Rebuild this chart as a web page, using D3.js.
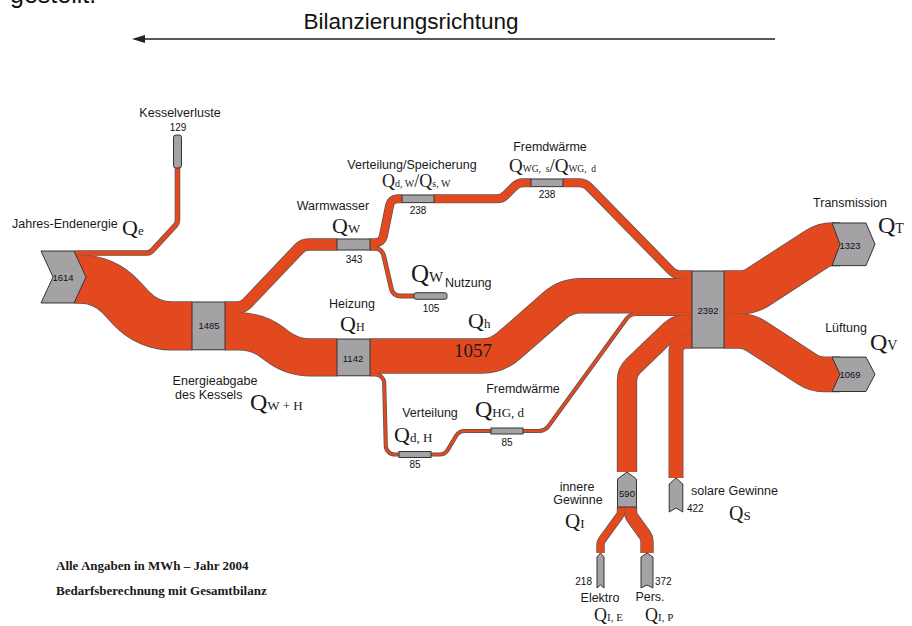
<!DOCTYPE html>
<html>
<head>
<meta charset="utf-8">
<script src="https://cdn.jsdelivr.net/npm/d3@7"></script>
<style>
body{margin:0;background:#fff;}
svg{display:block;}
</style>
</head>
<body>
<script>
// ---- data: energy balance in MWh, year 2004 ----
var nodeIds    = ["Qe","Kessel","Qwh","Qw","Qdw","Qwg","Qwn","Qhz","Qdh","Qhg","Qges","Qt","Qv","Qi","Qs","Qie","Qip"];
var nodeValues = [1614,129,1485,343,238,238,105,1142,85,85,2392,1323,1069,590,422,218,372];

var linkSource = ["Qe","Qe","Qwh","Qwh","Qw","Qw","Qdw","Qwg","Qhz","Qhz","Qdh","Qhg","Qi","Qs","Qges","Qges","Qie","Qip"];
var linkTarget = ["Kessel","Qwh","Qw","Qhz","Qdw","Qwn","Qwg","Qges","Qges","Qdh","Qhg","Qges","Qges","Qges","Qt","Qv","Qi","Qi"];
var linkValues = [129,1485,343,1142,238,105,238,238,1057,85,85,85,590,422,1323,1069,218,372];

var captionTexts = ["Kesselverluste","Jahres-Endenergie","Warmwasser","Verteilung/Speicherung","Fremdwärme","Nutzung","Heizung",
                    "Energieabgabe","des Kessels","Verteilung","Fremdwärme","Transmission","Lüftung","innere","Gewinne",
                    "solare Gewinne","Elektro","Pers."];
// symbol parts: big, sub, big, sub ...
var symbolTexts = [["Q","e"],["Q","W"],["Q","d, W","/Q","s, W"],["Q","WG,  s","/Q","WG,  d"],["Q","W"],["Q","H"],["Q","h"],
                   ["Q","W + H"],["Q","d, H"],["Q","HG, d"],["Q","T"],["Q","V"],["Q","I"],["Q","S"],["Q","I, E"],["Q","I, P"]];
var heatValueText = "1057";
var noteTexts = ["Alle Angaben in MWh – Jahr 2004","Bedarfsberechnung mit Gesamtbilanz"];
var titleText = "Bilanzierungsrichtung";
var pageText = "gestellt.";

// ---- layout ----
var ORANGE = "#e2491f", GREY = "#a4a2a5", EDGE = "#555";
var SANS = "'Liberation Sans', Arial, sans-serif", SERIF = "'Liberation Serif', 'Times New Roman', serif";

var w = d3.scaleLinear().domain([0, 2392]).range([0, 77]);

var nodeLayout = {
  Qe:    {kind:"chevR", x0:41,  x1:74,  yc:277,   tip:12, notch:12, lab:[63,281,"middle",9.5]},
  Kessel:{kind:"barV",  xc:177.5, y0:135, y1:168, thick:8, lab:[178,131,"middle",10]},
  Qwh:   {kind:"box",   x0:192, x1:225, yc:325.9, lab:[209,329,"middle",9.5]},
  Qw:    {kind:"box",   x0:337, x1:370, yc:244.5, lab:[354,263,"middle",10]},
  Qdw:   {kind:"box",   x0:402, x1:434, yc:198.8, lab:[418,214,"middle",10]},
  Qwg:   {kind:"box",   x0:531, x1:563, yc:182.8, lab:[547,198,"middle",10]},
  Qwn:   {kind:"box",   x0:414, x1:447, yc:296,   thick:6.5, rx:2, lab:[431,312,"middle",10]},
  Qhz:   {kind:"box",   x0:337, x1:370, yc:357.4, lab:[353,362,"middle",9.5]},
  Qdh:   {kind:"box",   x0:399, x1:431, yc:454.5, thick:6, lab:[415,468,"middle",10]},
  Qhg:   {kind:"box",   x0:491, x1:523, yc:431,   thick:6, lab:[507,446,"middle",10]},
  Qges:  {kind:"box",   x0:692, x1:724, yc:309.5, lab:[708,314,"middle",9.5]},
  Qt:    {kind:"chevR", x0:832, x1:866, yc:244.3, tip:9, notch:8, lab:[850,249,"middle",9.5]},
  Qv:    {kind:"chevR", x0:832, x1:866, yc:374.3, tip:9, notch:8, lab:[850,378,"middle",9.5]},
  Qi:    {kind:"chevU", xc:627, y0:479, y1:507, tip:7, notch:0, lab:[627,497,"middle",9.5]},
  Qs:    {kind:"chevU", xc:676, y0:484, y1:512, tip:6, notch:4, lab:[687,512,"start",10]},
  Qie:   {kind:"chevU", xc:600.5, y0:557, y1:588, tip:4, notch:3, lab:[592,585,"end",10]},
  Qip:   {kind:"chevU", xc:647, y0:557, y1:588, tip:4, notch:3, lab:[655,585,"start",10]}
};

// bend points of each link ('s' = start coordinate, 'e' = end coordinate)
var linkVia = [
  [[150,"s"],["e",223]],
  [[104,"s"],[148,"e"]],
  [[243,"s"],[303,"e"]],
  [[258,"s"],[292,"e"]],
  [[382,"s"],[391,"e"]],
  [[382,"s"],[393,"e"]],
  [[502,"s"],[518,"e"]],
  [[585,"s"],[675,"e"]],
  [[497,"s"],[566,"e"]],
  [[384,"s"],[386,"e"]],
  [[445,"s"],[459,"e"]],
  [[545,"s"],[630,"e"]],
  [["s",372],[676,"e"]],
  [["s","e"]],
  [[750,"s"],[824,"e"]],
  [[748,"s"],[815,"e"]],
  [["s",542],["e",514]],
  [["s",538],["e",515]]
];
var linkRadius = [8,55,14,55,8,9,12,15,40,9,10,12,20,10,30,30,8,10];

var captionPos = [[180,117,"middle"],[12,228,"start"],[333,210,"middle"],[412,169,"middle"],[550,151,"middle"],
                  [445,287,"start"],[352,308,"middle"],[215,385,"middle"],[175,399,"start"],[430,417,"middle"],
                  [523,393,"middle"],[850,207,"middle"],[846,332,"middle"],[577,491,"middle"],[578,504,"middle"],
                  [691,495,"start"],[600,602,"middle"],[650,601,"middle"]];
// x, baseline, big size, sub size
var symbolPos = [[122,235,22,13],[332,233,22,13],[382,187,18,10],[509,172,19,9.5],[411,282,25,15],[340,331,22,12],
                 [468,328,22,13],[250,410,24,13],[394,442,22,13],[475,417,24,13],[878,233,24,14],[870,350,24,14],
                 [565,528,21,13],[729,520,20,13],[594,621,18,11],[645,621,18,11]];

// ---- build ----
var nodes = {};
nodeIds.forEach(function(id,i){ nodes[id] = {id:id, value:nodeValues[i], lay:nodeLayout[id]}; });

function isVertical(l){ return l.kind === "chevU" || l.kind === "barV"; }

var outOff = {}, inOff = {};
var links = linkValues.map(function(v,i){
  var s = nodes[linkSource[i]], t = nodes[linkTarget[i]], lw = w(v);
  var sl = s.lay, tl = t.lay, start, end;
  var o = outOff[s.id] || 0;
  if (isVertical(sl)) start = [sl.xc - w(s.value)/2 + o + lw/2, sl.y0 - (sl.tip || 0)];
  else start = [sl.x1, sl.yc - w(s.value)/2 + o + lw/2];
  outOff[s.id] = o + lw;
  var k = inOff[t.id] || 0;
  if (isVertical(tl)) end = [tl.xc - w(t.value)/2 + k + lw/2, tl.y1];
  else end = [tl.x0 + (tl.kind === "chevR" ? tl.notch : 0), tl.yc - w(t.value)/2 + k + lw/2];
  inOff[t.id] = k + lw;

  var pts = [start];
  linkVia[i].forEach(function(p){
    pts.push([p[0] === "s" ? start[0] : p[0] === "e" ? end[0] : p[0],
              p[1] === "s" ? start[1] : p[1] === "e" ? end[1] : p[1]]);
  });
  pts.push(end);
  return {value:v, d:roundedPath(pts, linkRadius[i])};
});

function roundedPath(pts, r){
  var p = d3.path(), n = pts.length;
  p.moveTo(pts[0][0], pts[0][1]);
  for (var i = 1; i < n-1; i++){
    var a = pts[i-1], b = pts[i], c = pts[i+1];
    var v1 = [a[0]-b[0], a[1]-b[1]], v2 = [c[0]-b[0], c[1]-b[1]];
    var l1 = Math.hypot(v1[0],v1[1]), l2 = Math.hypot(v2[0],v2[1]);
    var cos = Math.max(-1, Math.min(1, (v1[0]*v2[0]+v1[1]*v2[1])/(l1*l2)));
    var ang = Math.acos(cos);
    if (ang > Math.PI - 1e-3){ p.lineTo(b[0], b[1]); continue; }
    var tn = Math.tan(ang/2);
    var t = Math.min(r/tn, i-1 === 0 ? l1 : l1/2, i+1 === n-1 ? l2 : l2/2);
    p.arcTo(b[0], b[1], c[0], c[1], t*tn);
  }
  p.lineTo(pts[n-1][0], pts[n-1][1]);
  return p.toString();
}

function nodeShape(nd){
  var l = nd.lay, v = w(nd.value), t = Math.max(v, l.thick || 0);
  if (l.kind === "chevR"){
    var top = l.yc - v/2, bot = l.yc + v/2;
    return "M"+l.x0+","+top+"L"+l.x1+","+top+"L"+(l.x1+l.tip)+","+l.yc+"L"+l.x1+","+bot+
           "L"+l.x0+","+bot+"L"+(l.x0+l.notch)+","+l.yc+"Z";
  }
  if (l.kind === "chevU"){
    var xl = l.xc - t/2, xr = l.xc + t/2;
    return "M"+xl+","+l.y0+"L"+l.xc+","+(l.y0-l.tip)+"L"+xr+","+l.y0+"L"+xr+","+l.y1+
           "L"+l.xc+","+(l.y1-l.notch)+"L"+xl+","+l.y1+"Z";
  }
  return null;
}

var svg = d3.select("body").append("svg").attr("width",912).attr("height",626);

// page fragment and direction arrow
svg.append("text").attr("x",10).attr("y",3).attr("font-family",SANS).attr("font-size",25).attr("fill","#111").text(pageText);
svg.append("text").attr("x",411).attr("y",29).attr("text-anchor","middle").attr("font-family",SANS)
  .attr("font-size",22.5).attr("fill","#111").text(titleText);
svg.append("line").attr("x1",143).attr("x2",775).attr("y1",39).attr("y2",39).attr("stroke","#222").attr("stroke-width",1.3);
svg.append("path").attr("d","M132,39L145,35L145,43Z").attr("fill","#222");

// flows: outline layer first, then fill layer
var gLinks = svg.append("g").attr("fill","none").attr("stroke-linejoin","round");
gLinks.selectAll("path.edge").data(links).enter().append("path").attr("class","edge")
  .attr("d",function(d){ return d.d; }).attr("stroke",EDGE).attr("stroke-width",function(d){ return w(d.value)+1.4; });
gLinks.selectAll("path.band").data(links).enter().append("path").attr("class","band")
  .attr("d",function(d){ return d.d; }).attr("stroke",ORANGE).attr("stroke-width",function(d){ return w(d.value); });

// nodes
var gNodes = svg.append("g");
nodeIds.forEach(function(id){
  var nd = nodes[id], l = nd.lay, v = w(nd.value), t = Math.max(v, l.thick || 0);
  if (l.kind === "box"){
    gNodes.append("rect").attr("x",l.x0).attr("y",l.yc - t/2).attr("width",l.x1-l.x0).attr("height",t)
      .attr("rx",l.rx || 0).attr("fill",GREY).attr("stroke","#333").attr("stroke-width",1);
  } else if (l.kind === "barV"){
    gNodes.append("rect").attr("x",l.xc - t/2).attr("y",l.y0).attr("width",t).attr("height",l.y1-l.y0)
      .attr("rx",2.5).attr("fill",GREY).attr("stroke","#333").attr("stroke-width",1);
  } else {
    gNodes.append("path").attr("d",nodeShape(nd)).attr("fill",GREY).attr("stroke","#333").attr("stroke-width",1);
  }
  gNodes.append("text").attr("x",l.lab[0]).attr("y",l.lab[1]).attr("text-anchor",l.lab[2])
    .attr("font-family",SANS).attr("font-size",l.lab[3]).attr("fill","#111").text(d3.format("d")(nd.value));
});

// captions
var gText = svg.append("g").attr("fill","#1a1a1a");
captionTexts.forEach(function(s,i){
  var p = captionPos[i];
  gText.append("text").attr("x",p[0]).attr("y",p[1]).attr("text-anchor",p[2])
    .attr("font-family",SANS).attr("font-size",12.5).text(s);
});

// symbols Q with subscripts
symbolTexts.forEach(function(parts,i){
  var p = symbolPos[i];
  var t = gText.append("text").attr("x",p[0]).attr("y",p[1]).attr("font-family",SERIF).attr("xml:space","preserve");
  parts.forEach(function(s,j){
    t.append("tspan").attr("font-size", j % 2 === 0 ? p[2] : p[3]).text(s);
  });
});

gText.append("text").attr("x",473).attr("y",357).attr("text-anchor","middle")
  .attr("font-family",SERIF).attr("font-size",19).text(heatValueText);

noteTexts.forEach(function(s,i){
  gText.append("text").attr("x",56).attr("y",570 + i*25).attr("font-family",SERIF)
    .attr("font-weight","bold").attr("font-size",13).text(s);
});
</script>
</body>
</html>
